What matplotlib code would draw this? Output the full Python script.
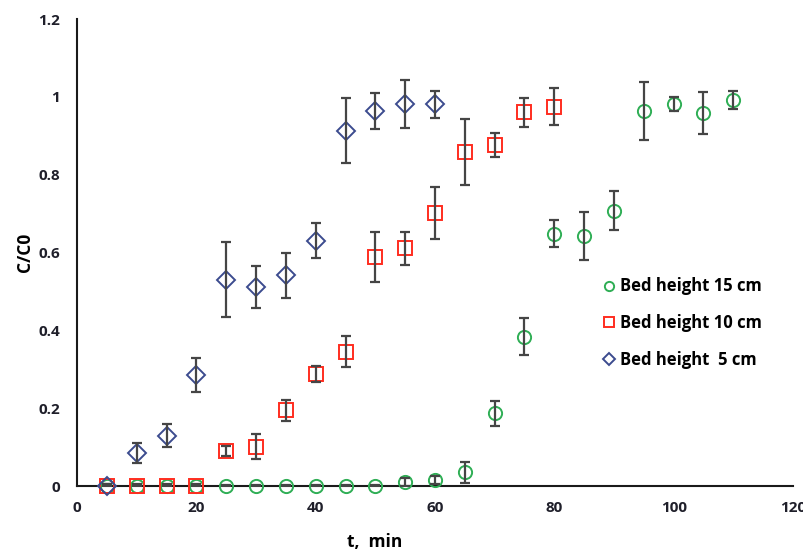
import matplotlib
matplotlib.use("Agg")
import matplotlib.pyplot as plt

# Data
t15 = [5, 10, 15, 20, 25, 30, 35, 40, 45, 50, 55, 60, 65, 70, 75, 80, 85, 90, 95, 100, 105, 110]
c15 = [0, 0, 0, 0, 0, 0, 0, 0, 0, 0, 0.011, 0.015, 0.035, 0.187, 0.384, 0.648, 0.643, 0.707, 0.964, 0.981, 0.958, 0.992]
e15 = [0.003, 0.003, 0.003, 0.003, 0.003, 0.003, 0.003, 0.003, 0.003, 0.003, 0.01, 0.01, 0.026, 0.032, 0.048, 0.035, 0.062, 0.05, 0.075, 0.018, 0.054, 0.023]

t10 = [5, 10, 15, 20, 25, 30, 35, 40, 45, 50, 55, 60, 65, 70, 75, 80]
c10 = [0, 0, 0, 0, 0.09, 0.101, 0.195, 0.288, 0.345, 0.588, 0.611, 0.701, 0.858, 0.877, 0.96, 0.975]
e10 = [0.005, 0.005, 0.005, 0.005, 0.012, 0.032, 0.027, 0.02, 0.04, 0.065, 0.042, 0.067, 0.084, 0.031, 0.037, 0.047]

t5 = [5, 10, 15, 20, 25, 30, 35, 40, 45, 50, 55, 60]
c5 = [0, 0.085, 0.129, 0.285, 0.53, 0.512, 0.542, 0.63, 0.913, 0.964, 0.981, 0.981]
e5 = [0.005, 0.026, 0.03, 0.044, 0.096, 0.054, 0.058, 0.045, 0.083, 0.047, 0.061, 0.035]

labels = ["Bed height 15 cm", "Bed height 10 cm", "Bed height  5 cm"]
xticks = [0, 20, 40, 60, 80, 100, 120]
yticks = [0, 0.2, 0.4, 0.6, 0.8, 1.0, 1.2]
yticklabels = ["0", "0.2", "0.4", "0.6", "0.8", "1", "1.2"]

plt.rcParams['font.family'] = ['Open Sans', 'DejaVu Sans']

fig = plt.figure(figsize=(8.04, 5.54), dpi=100)
ax = fig.add_axes([0.0958, 0.1227, 0.8905, 0.843])

ecol = '#454545'
series = [
    (t15, c15, e15, 'o', '#2fae55', 9.5, labels[0]),
    (t10, c10, e10, 's', '#ff2d1f', 9.5, labels[1]),
    (t5, c5, e5, 'D', '#3c4b8e', 9.0, labels[2]),
]
handles = []
for t, c, e, m, col, ms, lab in series:
    h = ax.plot(t, c, linestyle='none', marker=m, markersize=ms, markerfacecolor='none',
                markeredgecolor=col, markeredgewidth=1.4, label=lab, zorder=3,
                clip_on=False)[0]
    ax.errorbar(t, c, yerr=e, fmt='none', ecolor=ecol, elinewidth=1.6, capsize=3.8,
                capthick=1.6, zorder=4)
    handles.append(h)

ax.set_xlim(0, 120)
ax.set_ylim(0, 1.2)
ax.set_xticks(xticks)
ax.set_yticks(yticks)
ax.set_yticklabels(yticklabels)
for s in ['top', 'right']:
    ax.spines[s].set_visible(False)
for s in ['left', 'bottom']:
    ax.spines[s].set_linewidth(1.5)
    ax.spines[s].set_color('#1a1a1a')
ax.tick_params(axis='x', length=0, pad=11, labelsize=11, colors='#1f1f2a')
ax.tick_params(axis='y', length=0, pad=12, labelsize=11, colors='#1f1f2a')
for lbl in ax.get_xticklabels() + ax.get_yticklabels():
    lbl.set_fontweight('bold')

ax.set_xlabel('t,  min', fontsize=12.5, fontweight='bold')
ax.set_ylabel('C/C0', fontsize=12.5, fontweight='bold')
ax.xaxis.set_label_coords(0.416, -0.10)
ax.yaxis.set_label_coords(-0.060, 0.5)

leg = ax.legend(handles=handles, loc='center left', bbox_to_anchor=(0.71, 0.349),
                frameon=False, prop={'weight': 'bold', 'size': 12},
                handletextpad=0.2, labelspacing=1.12, handlelength=1.0,
                markerscale=0.7)

fig.savefig('out.png', dpi=100)
